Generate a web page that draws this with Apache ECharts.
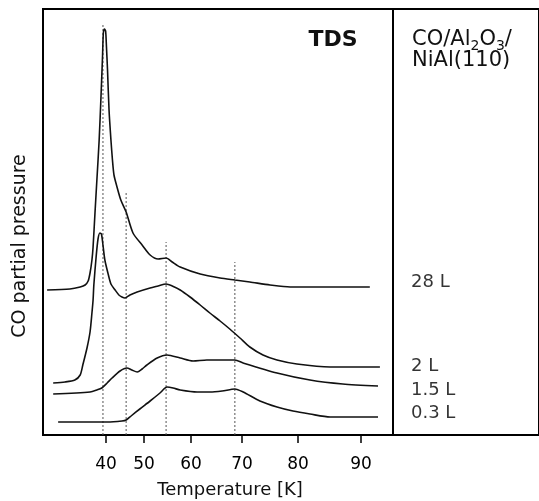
<!DOCTYPE html>
<html><head><meta charset="utf-8">
<script src="https://cdn.jsdelivr.net/npm/echarts@6/dist/echarts.min.js"></script>
<style>html,body{margin:0;padding:0;background:#fff}#c{width:539px;height:501px}</style>
</head><body><div id="c"></div>
<script>
// Nonlinear temperature scale: tick temperatures and their positions on the axis scale
const tickTemps = [40, 50, 60, 70, 80, 90];
const tickPos = [63, 101, 148, 199, 255, 318];

// Curves: temperature [K] and CO partial pressure (arb. units)
const t28 = [24.5,30.5,33.2,34.5,35.3,35.8,36.3,36.6,37.1,37.6,38.2,38.7,39.1,39.3,39.6,39.9,40.1,40.4,40.8,41.3,41.7,42.1,42.9,43.9,45.3,47.1,49.5,51.3,53.0,54.7,56.0,57.7,61.8,65.7,68.6,71.4,75.0,78.6,85.1,91.4];
const p28 = [145,146,148,150,154,162,175,188,222,255,295,340,380,402,406,404,390,365,325,295,275,260,248,235,223,202,190,180,176,177,173,168,161,157,155,153,150,148,148,148];

const t2 = [26.1,29.2,31.8,33.2,33.9,35.0,35.8,36.3,36.6,36.8,37.4,37.9,38.4,38.8,39.2,39.7,40.5,41.3,42.4,43.4,44.2,45.0,46.3,48.2,51.3,53.0,54.7,56.0,57.7,59.8,61.8,63.7,65.7,67.6,69.6,71.4,73.75,76.25,79.8,85.1,93.0];
const p2 = [52,53,55,60,70,87,103,122,135,150,178,196,202,201,190,175,162,151,145,140,138,137,140,143,147,149,151,149,145,138,130,122,114,106,97,88,80,75,71,68,68];

const t15 = [26.1,35.8,37.6,38.9,40.3,41.6,43.7,45.5,46.8,48.2,49.5,50.6,52.8,54.9,57.7,60.4,63.1,65.7,68.6,70.2,76.25,81.9,87.1,92.7];
const p15 = [41,43,45,47,52,57,64,67,65,63,66,70,77,80,77,74,75,75,75,72,62,55,51,49];

const t03 = [27.4,40.3,44.2,45.3,46.6,48.9,51.3,53.4,54.9,56.2,57.7,61.2,63.7,66.1,68.6,70.2,73.2,76.25,79.1,81.9,85.1,88.3,92.7];
const p03 = [13,13,14,15,19,26,34,42,48,47,45,43,43,44,46,43,34,28,24,21,18,18,18];

const curveNames = ['28 L', '2 L', '1.5 L', '0.3 L'];

// Desorption peak markers (temperature, height of dotted line)
const peakTemps = [39.2, 45.3, 54.7, 68.6];
const peakTops = [410, 242, 193, 173];

const FONT = 'DejaVu Sans';

function pos(T) {
  let i = 0;
  while (i < tickTemps.length - 2 && T > tickTemps[i + 1]) i++;
  const t0 = tickTemps[i], t1 = tickTemps[i + 1];
  return tickPos[i] + (T - t0) * (tickPos[i + 1] - tickPos[i]) / (t1 - t0);
}
function curve(ts, ps) { return ts.map((t, i) => [pos(t), ps[i]]); }

const curveT = [t28, t2, t15, t03];
const curveP = [p28, p2, p15, p03];
const labelDy = [-5, -1, 4, -4];

const series = [];
peakTemps.forEach((T, i) => {
  series.push({
    type: 'line', xAxisIndex: 0, yAxisIndex: 0, silent: true, symbol: 'none', z: 1,
    data: [[pos(T), 0], [pos(T), peakTops[i]]],
    lineStyle: { color: '#555', width: 1, type: [2, 2] }
  });
});
curveNames.forEach((name, k) => {
  series.push({
    name, type: 'line', xAxisIndex: 0, yAxisIndex: 0, symbol: 'none', smooth: 0.25, z: 3,
    data: curve(curveT[k], curveP[k]),
    lineStyle: { color: '#111', width: 1.6 }
  });
  const last = curveP[k][curveP[k].length - 1];
  series.push({
    type: 'scatter', xAxisIndex: 1, yAxisIndex: 1, symbolSize: 0, silent: true,
    itemStyle: { color: '#000' },
    data: [[0, last]],
    label: { show: true, position: 'right', distance: 18, offset: [0, labelDy[k]],
      formatter: name, color: '#000', fontFamily: FONT, fontSize: 18 }
  });
});

const option = {
  animation: false,
  backgroundColor: '#fff',
  grid: [
    { left: 43, right: 146, top: 9, bottom: 66, show: true, borderColor: '#000', borderWidth: 2 },
    { left: 393, right: -10, top: 9, bottom: 66, show: true, borderColor: '#000', borderWidth: 2 }
  ],
  xAxis: [
    { type: 'value', gridIndex: 0, min: 0, max: 350,
      axisLine: { show: true, lineStyle: { color: '#000', width: 2 } },
      splitLine: { show: false },
      axisTick: { show: true, length: 8, inside: false, customValues: tickPos, lineStyle: { color: '#000', width: 1.5 } },
      axisLabel: { show: true, customValues: tickPos, margin: 21, color: '#000', fontFamily: FONT, fontSize: 17,
        formatter: v => { const k = tickPos.indexOf(Math.round(v)); return k >= 0 ? String(tickTemps[k]) : ''; } }
    },
    { type: 'value', gridIndex: 1, min: 0, max: 1, show: false }
  ],
  yAxis: [
    { type: 'value', gridIndex: 0, min: 0, max: 426, show: false },
    { type: 'value', gridIndex: 1, min: 0, max: 426, show: false }
  ],
  graphic: [
    { type: 'text', x: 333, y: 40, silent: true,
      style: { text: 'TDS', fontFamily: FONT, fontSize: 22, fontWeight: 'bold', fill: '#111',
        align: 'center', verticalAlign: 'middle', textAlign: 'center', textVerticalAlign: 'middle' } },
    { type: 'text', x: 412, y: 40, silent: true,
      style: { text: 'CO/Al{s|2}O{s|3}/', fontFamily: FONT, fontSize: 21, fill: '#111',
        align: 'left', verticalAlign: 'middle', textAlign: 'left', textVerticalAlign: 'middle',
        rich: { s: { fontFamily: FONT, fontSize: 14, lineHeight: 14, padding: [10, 0, 0, 0], verticalAlign: 'top', fill: '#111' } } } },
    { type: 'text', x: 412, y: 61, silent: true,
      style: { text: 'NiAl(110)', fontFamily: FONT, fontSize: 21, fill: '#111',
        align: 'left', verticalAlign: 'middle', textAlign: 'left', textVerticalAlign: 'middle' } },
    { type: 'text', x: 20, y: 246, rotation: Math.PI / 2, silent: true,
      style: { text: 'CO partial pressure', fontFamily: FONT, fontSize: 19, fill: '#111',
        align: 'center', verticalAlign: 'middle', textAlign: 'center', textVerticalAlign: 'middle' } },
    { type: 'text', x: 230, y: 490, silent: true,
      style: { text: 'Temperature [K]', fontFamily: FONT, fontSize: 18, fill: '#111',
        align: 'center', verticalAlign: 'middle', textAlign: 'center', textVerticalAlign: 'middle' } }
  ],
  series
};
const chart = echarts.init(document.getElementById('c'));
chart.setOption(option);
</script>
</body></html>
